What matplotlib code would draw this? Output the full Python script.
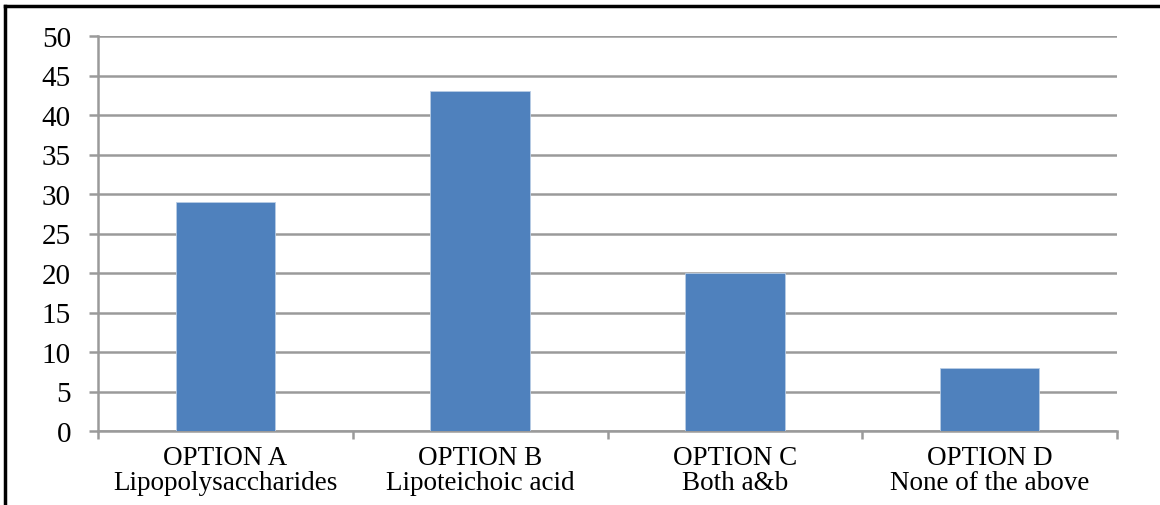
import numpy as np
import matplotlib.pyplot as plt
from matplotlib.lines import Line2D

options = ['OPTION A\nLipopolysaccharides', 'OPTION B\nLipoteichoic acid',
           'OPTION C\nBoth a&b', 'OPTION D\nNone of the above']
values = [29, 43, 20, 8]
y_ticks = [0, 5, 10, 15, 20, 25, 30, 35, 40, 45, 50]

plt.rcParams['font.family'] = ['Liberation Serif', 'DejaVu Serif']
grey = '#9a9a9a'

fig = plt.figure(figsize=(11.6, 5.06), dpi=100)
ax = fig.add_axes([98 / 1160, 1 - 432 / 506, (1117 - 98) / 1160, (432 - 37) / 506])

x = np.arange(len(options))
ax.bar(x, values, width=0.39, color='#4F81BD', edgecolor='#b9cde5', linewidth=0.6, zorder=3)

ax.set_xlim(-0.5, len(options) - 0.5)
ax.set_ylim(0, 50)
ax.set_yticks(y_ticks)
ax.set_yticklabels([str(v) for v in y_ticks], fontsize=21)
ax.set_xticks(x)
ax.set_xticklabels(options, fontsize=19.5, linespacing=1.0)
ax.set_xticks(np.arange(-0.5, len(options)), minor=True)

ax.grid(axis='y', color=grey, linewidth=1.8, zorder=0)
ax.tick_params(axis='y', length=6.5, width=1.8, color=grey, pad=13)
ax.tick_params(axis='x', which='major', length=0, pad=10)
ax.tick_params(axis='x', which='minor', length=6, width=1.8, color=grey)

for side in ['top', 'right']:
    ax.spines[side].set_visible(False)
for side in ['left', 'bottom']:
    ax.spines[side].set_color(grey)
    ax.spines[side].set_linewidth(1.8)

# outer frame (top and left edges visible in the original crop)
fig.add_artist(Line2D([5 / 1160, 5 / 1160], [0, 1 - 7 / 506], color='black', linewidth=2.5,
                      transform=fig.transFigure))
fig.add_artist(Line2D([5 / 1160, 1], [1 - 7 / 506, 1 - 7 / 506], color='black', linewidth=2.5,
                      transform=fig.transFigure))

fig.savefig('out.png', dpi=100)
